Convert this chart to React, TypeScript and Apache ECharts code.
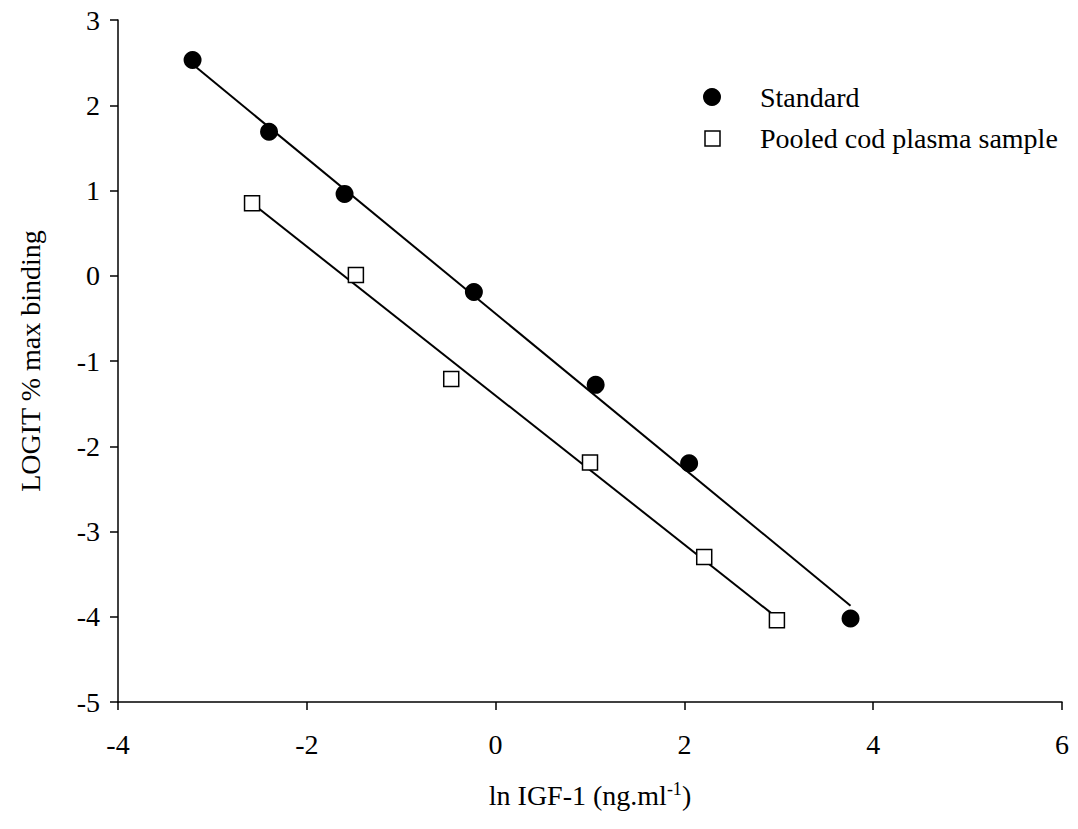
import React, { useEffect, useRef } from "react";
import * as echarts from "echarts";

// Data
const standardX = [-3.21, -2.40, -1.60, -0.23, 1.06, 2.05, 3.76];
const standardY = [2.53, 1.69, 0.96, -0.19, -1.28, -2.20, -4.02];
const pooledX = [-2.58, -1.48, -0.47, 1.00, 2.21, 2.98];
const pooledY = [0.85, 0.01, -1.21, -2.19, -3.30, -4.04];
// Fitted regression lines (end points)
const standardFitX = [-3.21, 3.76];
const standardFitY = [2.48, -3.87];
const pooledFitX = [-2.58, 2.98];
const pooledFitY = [0.85, -4.01];

const xTicks = { min: -4, max: 6, interval: 2 };
const yTicks = { min: -5, max: 3, interval: 1 };
const legendNames = ["Standard", "Pooled cod plasma sample"];
const xTitle = "ln IGF-1 (ng.ml{sup|-1})";
const yTitle = "LOGIT % max binding";

const FONT = "Liberation Serif, Times New Roman, serif";
const FS = 28;

function zip(xs: number[], ys: number[]) {
  return xs.map((x, i) => [x, ys[i]]);
}

export default function App() {
  const ref = useRef<HTMLDivElement>(null);
  useEffect(() => {
    if (!ref.current) return;
    const chart = echarts.init(ref.current, null, { renderer: "svg" });
    const axisCommon = {
      axisLine: { show: true, onZero: false, lineStyle: { color: "#000", width: 1.5 } },
      axisTick: { show: true, inside: false, length: 8, lineStyle: { color: "#000", width: 1.5 } },
      splitLine: { show: false },
      axisLabel: { color: "#000", fontFamily: FONT, fontSize: FS },
      nameTextStyle: { color: "#000", fontFamily: FONT, fontSize: FS },
    };
    chart.setOption({
      animation: false,
      backgroundColor: "#fff",
      textStyle: { fontFamily: FONT },
      grid: { left: 118, right: 16, top: 20, bottom: 127, containLabel: false },
      xAxis: {
        type: "value",
        ...xTicks,
        ...axisCommon,
        axisLabel: { ...axisCommon.axisLabel, margin: 28 },
        name: xTitle,
        nameLocation: "middle",
        nameGap: 78,
        nameTextStyle: {
          ...axisCommon.nameTextStyle,
          rich: {
            sup: { fontFamily: FONT, fontSize: 18, color: "#000", verticalAlign: "top", padding: [0, 0, 12, 0] },
          },
        },
      },
      yAxis: {
        type: "value",
        ...yTicks,
        ...axisCommon,
        axisLabel: { ...axisCommon.axisLabel, margin: 18 },
        name: yTitle,
        nameLocation: "middle",
        nameRotate: 90,
        nameGap: 74,
      },
      graphic: [
        { type: "circle", shape: { cx: 712, cy: 97, r: 9 }, style: { fill: "#000" } },
        { type: "rect", shape: { x: 705, y: 131, width: 15, height: 15 }, style: { fill: "#fff", stroke: "#000", lineWidth: 1.5 } },
        { type: "text", x: 760, y: 97, style: { text: legendNames[0], fontFamily: FONT, fontSize: FS, fill: "#000", verticalAlign: "middle" } },
        { type: "text", x: 760, y: 138, style: { text: legendNames[1], fontFamily: FONT, fontSize: FS, fill: "#000", verticalAlign: "middle" } },
      ],
      series: [
        {
          type: "line",
          data: zip(standardFitX, standardFitY),
          showSymbol: false,
          symbol: "none",
          lineStyle: { color: "#000", width: 2 },
          z: 1,
        },
        {
          type: "line",
          data: zip(pooledFitX, pooledFitY),
          showSymbol: false,
          symbol: "none",
          lineStyle: { color: "#000", width: 2 },
          z: 1,
        },
        {
          name: legendNames[0],
          type: "scatter",
          data: zip(standardX, standardY),
          symbol: "circle",
          symbolSize: 18,
          itemStyle: { color: "#000", opacity: 1 },
          z: 3,
        },
        {
          name: legendNames[1],
          type: "scatter",
          data: zip(pooledX, pooledY),
          symbol: "rect",
          symbolSize: 15,
          itemStyle: { color: "#fff", borderColor: "#000", borderWidth: 1.5, opacity: 1 },
          z: 3,
        },
      ],
    });
    return () => chart.dispose();
  }, []);
  return <div ref={ref} style={{ position: "fixed", left: 0, top: 0, width: 1078, height: 829 }} />;
}
